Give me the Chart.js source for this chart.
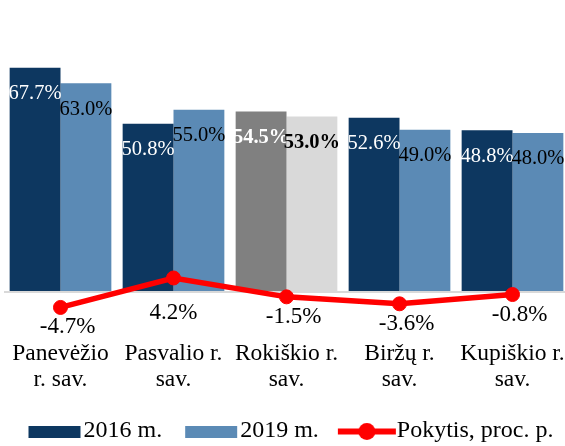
<!DOCTYPE html>
<html>
<head>
<meta charset="utf-8">
<script src="https://cdn.jsdelivr.net/npm/chart.js@4"></script>
<style>
  html, body { margin: 0; padding: 0; overflow: hidden; background: #fff; }
  canvas { display: block; }
</style>
</head>
<body>
<canvas id="chart" width="585" height="453"></canvas>
<script>
// data
const categories = [['Panevėžio', 'r. sav.'], ['Pasvalio r.', 'sav.'], ['Rokiškio r.', 'sav.'], ['Biržų r.', 'sav.'], ['Kupiškio r.', 'sav.']];
const values2016 = [67.7, 50.8, 54.5, 52.6, 48.8];
const values2019 = [63.0, 55.0, 53.0, 49.0, 48.0];
const changePP = [-4.7, 4.2, -1.5, -3.6, -0.8];
const seriesNames = ['2016 m.', '2019 m.', 'Pokytis, proc. p.'];
const highlightIndex = 2; // Rokiškio is drawn in grey

const NAVY = '#0d3760';
const STEEL = '#5b8ab5';
const RED = '#ff0000';
const FONT = 'Liberation Serif';

const colors2016 = categories.map((c, i) => i === highlightIndex ? '#808080' : NAVY);
const colors2019 = categories.map((c, i) => i === highlightIndex ? '#d9d9d9' : STEEL);

// legend icons (drawn as images so box, line and marker look like the original)
function makeIcon(draw) {
  const c = document.createElement('canvas');
  c.width = 80;
  c.height = 24;
  draw(c.getContext('2d'));
  return c;
}
const barIcon = color => makeIcon(ctx => {
  ctx.fillStyle = color;
  ctx.fillRect(23, 7, 52, 12);
});
const lineIcon = makeIcon(ctx => {
  ctx.strokeStyle = RED;
  ctx.lineWidth = 6;
  ctx.beginPath();
  ctx.moveTo(19, 12.5);
  ctx.lineTo(77, 12.5);
  ctx.stroke();
  ctx.fillStyle = RED;
  ctx.beginPath();
  ctx.arc(48, 12.5, 8.5, 0, Math.PI * 2);
  ctx.fill();
});
const legendIcons = [barIcon(NAVY), barIcon(STEEL), lineIcon];

// value labels on bars and under the line points
const valueLabels = {
  id: 'valueLabels',
  afterDatasetsDraw(chart) {
    const ctx = chart.ctx;
    const zeroY = chart.scales.y.getPixelForValue(0);
    ctx.save();
    ctx.textAlign = 'center';
    ctx.textBaseline = 'middle';
    [0, 1].forEach(di => {
      const values = chart.data.datasets[di].data;
      chart.getDatasetMeta(di).data.forEach((bar, i) => {
        ctx.font = (i === highlightIndex ? 'bold ' : '') + '20.5px "' + FONT + '"';
        ctx.fillStyle = di === 0 ? '#ffffff' : '#000000';
        ctx.fillText(values[i].toFixed(1) + '%', bar.x, bar.y + 26);
      });
    });
    ctx.font = '23px "' + FONT + '"';
    ctx.fillStyle = '#000000';
    chart.getDatasetMeta(2).data.forEach((pt, i) => {
      const v = changePP[i];
      const y = Math.max(pt.y + 20, zeroY + 21);
      ctx.fillText(v.toFixed(1) + '%', pt.x + (v < 0 ? 7 : 0), y);
    });
    ctx.restore();
  }
};

new Chart(document.getElementById('chart'), {
  type: 'bar',
  data: {
    labels: categories,
    datasets: [
      {
        label: seriesNames[0],
        data: values2016,
        backgroundColor: colors2016,
        categoryPercentage: 0.9,
        barPercentage: 1,
        order: 1
      },
      {
        label: seriesNames[1],
        data: values2019,
        backgroundColor: colors2019,
        categoryPercentage: 0.9,
        barPercentage: 1,
        order: 1
      },
      {
        type: 'line',
        label: seriesNames[2],
        data: changePP,
        borderColor: RED,
        backgroundColor: RED,
        borderWidth: 5.5,
        pointRadius: 7,
        pointBorderWidth: 1,
        pointBackgroundColor: RED,
        pointBorderColor: RED,
        tension: 0,
        order: 0
      }
    ]
  },
  options: {
    responsive: false,
    animation: false,
    devicePixelRatio: 1,
    layout: { autoPadding: false, padding: { top: 27, left: 4, right: 16, bottom: 0 } },
    plugins: {
      tooltip: { enabled: false },
      legend: {
        position: 'bottom',
        labels: {
          usePointStyle: true,
          pointStyleWidth: 52,
          boxHeight: 12,
          padding: 14,
          color: '#000',
          font: { family: FONT, size: 24 },
          sort: (a, b) => a.datasetIndex - b.datasetIndex,
          generateLabels(chart) {
            const items = Chart.defaults.plugins.legend.labels.generateLabels(chart);
            items.forEach(it => { it.pointStyle = legendIcons[it.datasetIndex]; });
            return items;
          }
        }
      }
    },
    scales: {
      x: {
        grid: { display: false, drawTicks: false },
        border: { display: false },
        ticks: {
          color: '#000',
          font: { family: FONT, size: 23.5, lineHeight: '26px' },
          padding: 16,
          autoSkip: false,
          maxRotation: 0
        },
        afterFit(scale) {
          scale.height = 80;
          scale.paddingLeft = 0;
          scale.paddingRight = 0;
        }
      },
      y: {
        min: -10,
        max: 80,
        ticks: { display: false, stepSize: 10 },
        grid: {
          drawTicks: false,
          lineWidth: 2,
          color: ctx => ctx.tick && ctx.tick.value === 0 ? '#d9d9d9' : 'transparent'
        },
        border: { display: false },
        afterFit(scale) {
          scale.width = 0;
          scale.paddingTop = 0;
          scale.paddingBottom = 0;
        }
      }
    }
  },
  plugins: [valueLabels]
});
</script>
</body>
</html>
